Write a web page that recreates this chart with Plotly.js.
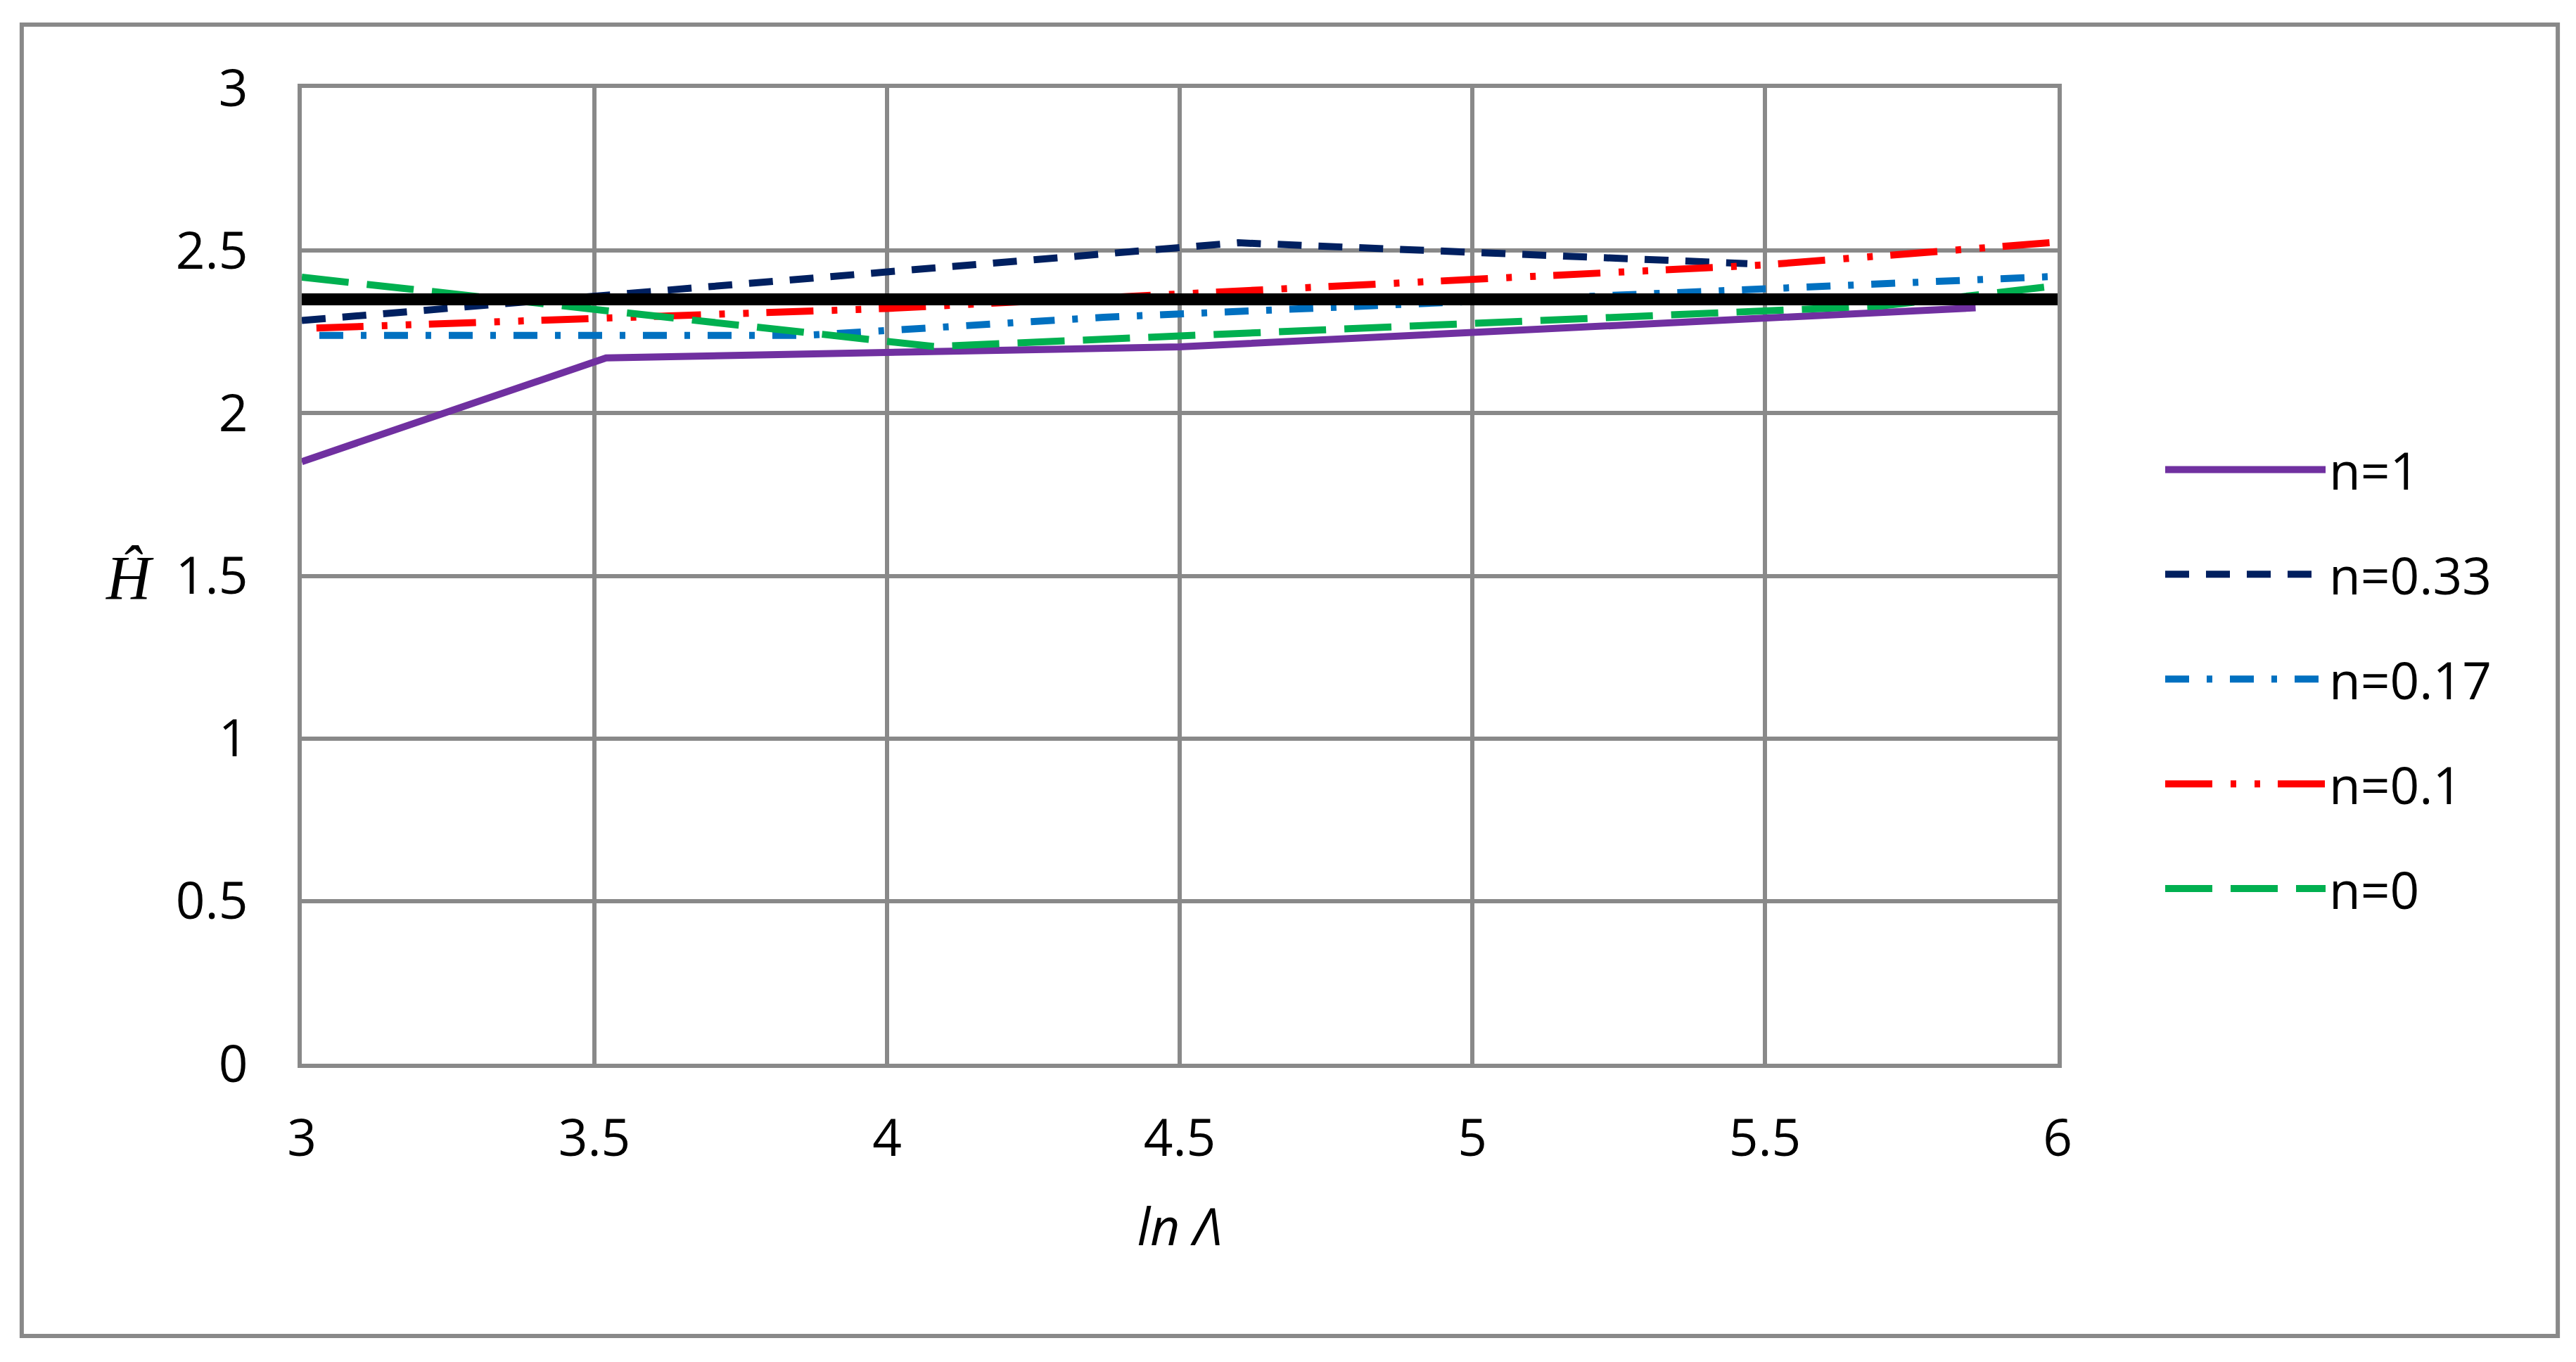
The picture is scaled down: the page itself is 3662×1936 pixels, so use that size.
<!DOCTYPE html>
<html>
<head>
<meta charset="utf-8">
<script src="https://cdn.plot.ly/plotly-3.0.1.min.js"></script>
<style>html,body{margin:0;padding:0;background:#fff;}#chart{width:3662px;height:1936px;}</style>
</head>
<body>
<div id="chart"></div>
<script>
// ---- data ----
const seriesNames = ["n=1", "n=0.33", "n=0.17", "n=0.1", "n=0"];

const xN1   = [3.00, 3.52, 4.50, 5.86];
const yN1   = [1.851, 2.170, 2.204, 2.324];

const xN033 = [3.00, 4.60, 5.47];
const yN033 = [2.285, 2.524, 2.460];

const xN017 = [3.03, 3.86, 4.37, 6.00];
const yN017 = [2.239, 2.239, 2.295, 2.421];

const xN01  = [3.025, 4.00, 5.50, 6.00];
const yN01  = [2.262, 2.322, 2.456, 2.526];

const xN0   = [3.00, 4.08, 5.70, 6.00];
const yN0   = [2.418, 2.205, 2.330, 2.392];

const xRef  = [3, 6];
const yRef  = [2.35, 2.35];

const xTicks = [3, 3.5, 4, 4.5, 5, 5.5, 6];
const yTicks = [0, 0.5, 1, 1.5, 2, 2.5, 3];

// ---- styles ----
const colors = ["#7030A0", "#002060", "#0070C0", "#FF0000", "#00B050"];
const dashes = ["solid", "34px,24px", "34px,25px,8px,25px", "67px,26px,8px,26px,8px,25px", "67px,26px"];
const xs = [xN1, xN033, xN017, xN01, xN0];
const ys = [yN1, yN033, yN017, yN01, yN0];

const traces = seriesNames.map((name, i) => ({
  type: "scatter", mode: "lines", name: name,
  x: xs[i], y: ys[i],
  legendgroup: "g" + i,
  line: {color: colors[i], width: 10, dash: dashes[i]},
  hoverinfo: "skip"
}));
traces.push({
  type: "scatter", mode: "lines", x: xRef, y: yRef, showlegend: false,
  line: {color: "#000000", width: 17}, hoverinfo: "skip"
});

const gridCol = "#898989";
const FONT = "'Open Sans', 'Noto Sans', sans-serif";

const layout = {
  width: 3662, height: 1936,
  margin: {l: 429, r: 737, t: 125, b: 424},
  paper_bgcolor: "#ffffff", plot_bgcolor: "#ffffff",
  font: {family: FONT, size: 73, color: "#000000"},
  showlegend: true,
  legend: {
    x: 1.0593, xanchor: "left", y: 0.394, yanchor: "middle",
    itemwidth: 228, tracegroupgap: 51,
    bgcolor: "rgba(0,0,0,0)", borderwidth: 0,
    font: {family: FONT, size: 73, color: "#000000"}
  },
  xaxis: {
    range: [3, 6], tickvals: xTicks, ticktext: xTicks.map(String),
    showgrid: true, gridcolor: gridCol, gridwidth: 6,
    showline: true, linecolor: gridCol, linewidth: 6, mirror: true,
    zeroline: false, ticks: "", ticklabelstandoff: 37,
    tickfont: {family: FONT, size: 73, color: "#000000"},
    title: {text: "ln Λ", font: {family: FONT, size: 73, style: "italic", color: "#000000"}, standoff: 58}
  },
  yaxis: {
    range: [0, 3], tickvals: yTicks, ticktext: yTicks.map(String),
    showgrid: true, gridcolor: gridCol, gridwidth: 6,
    showline: true, linecolor: gridCol, linewidth: 6, mirror: true,
    zeroline: false, ticks: "", ticklabelstandoff: 56,
    tickfont: {family: FONT, size: 73, color: "#000000"}
  },
  annotations: [{
    xref: "paper", yref: "paper", x: -0.098, y: 0.4975,
    xanchor: "center", yanchor: "middle", showarrow: false,
    text: "Ĥ",
    font: {family: "'Liberation Serif', 'DejaVu Serif', serif", size: 88, style: "italic", color: "#000000"}
  }],
  shapes: [{
    type: "rect", xref: "paper", yref: "paper", layer: "below",
    x0: -0.1595, x1: 1.2849, y0: -0.279, y1: 1.0649,
    line: {color: gridCol, width: 6}, fillcolor: "rgba(0,0,0,0)"
  }]
};

Plotly.newPlot("chart", traces, layout, {displayModeBar: false, staticPlot: true});
</script>
</body>
</html>
